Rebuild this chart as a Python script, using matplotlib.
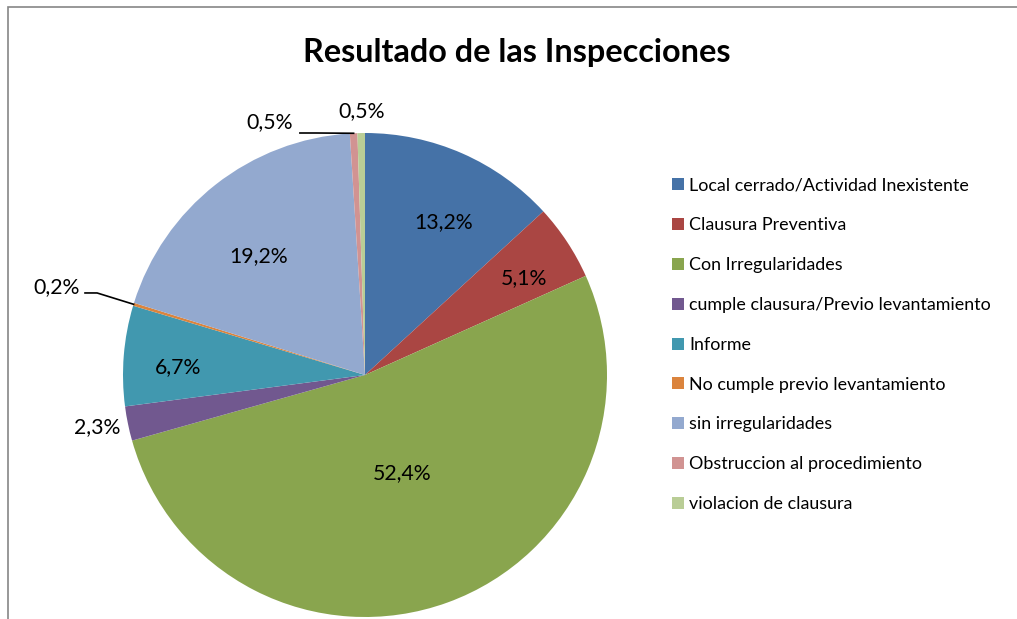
import numpy as np
import matplotlib
matplotlib.use('Agg')
import matplotlib.pyplot as plt
from matplotlib.patches import Rectangle

plt.rcParams['font.family'] = ['Lato', 'DejaVu Sans']

categories = ['Local cerrado/Actividad Inexistente', 'Clausura Preventiva',
	'Con Irregularidades', 'cumple clausura/Previo levantamiento', 'Informe',
	'No cumple previo levantamiento', 'sin irregularidades',
	'Obstruccion al procedimiento', 'violacion de clausura']
values = [13.2, 5.1, 52.4, 2.3, 6.7, 0.2, 19.2, 0.5, 0.5]
colors = ['#4572A7', '#AA4643', '#89A54E', '#71588F', '#4198AF',
	'#DB843D', '#93A9CF', '#D19392', '#B9CD96']

# label positions (pie radius units) and which ones get a leader line
label_pos = [(0.326, 0.632), (0.657, 0.401), (0.153, -0.405), (-1.107, -0.215),
	(-0.773, 0.033), (-1.273, 0.364), (-0.438, 0.492), (-0.393, 1.045), (-0.012, 1.091)]
leader = {5: (-1.157, 0.339, -1.107), 7: (-0.269, 1.0, -0.202)}

W, H = 1017, 619
fig = plt.figure(figsize=(W / 100, H / 100), dpi=100)

# chart border
fig.patches.append(Rectangle((8 / W, -0.1), 1.2, (H - 7) / H + 0.1, transform=fig.transFigure,
	fill=False, edgecolor='#868686', lw=1.2))

cx, cy, R = 365, 375, 242
ax = fig.add_axes([(cx - R) / W, (H - cy - R) / H, 2 * R / W, 2 * R / H])
wedges, _ = ax.pie(values, colors=colors, startangle=90, counterclock=False,
	radius=1, wedgeprops=dict(linewidth=0))
ax.set_xlim(-1, 1)
ax.set_ylim(-1, 1)
ax.set_aspect('auto')
ax.axis('off')

for i, v in enumerate(values):
	x, y = label_pos[i]
	ax.text(x, y, ('%.1f%%' % v).replace('.', ','), ha='center', va='center',
		fontsize=15.3, clip_on=False)
	if i in leader:
		w = wedges[i]
		a = np.deg2rad((w.theta1 + w.theta2) / 2)
		x0, y0, x1 = leader[i]
		ax.plot([x0, x1, np.cos(a)], [y0, y0, np.sin(a)], color='black', lw=1.2, clip_on=False)

fig.text(517 / W, 1 - 62 / H, 'Resultado de las Inspecciones', ha='center', va='baseline',
	fontsize=23.3, fontweight='bold')

fig.legend(wedges, categories, loc='upper left', bbox_to_anchor=(672 / W, 1 - 177.5 / H),
	frameon=False, fontsize=12.9, handlelength=0.65, handleheight=0.65,
	handletextpad=0.3, labelspacing=1.33, borderpad=0, borderaxespad=0)

fig.savefig('out.png', dpi=100)
